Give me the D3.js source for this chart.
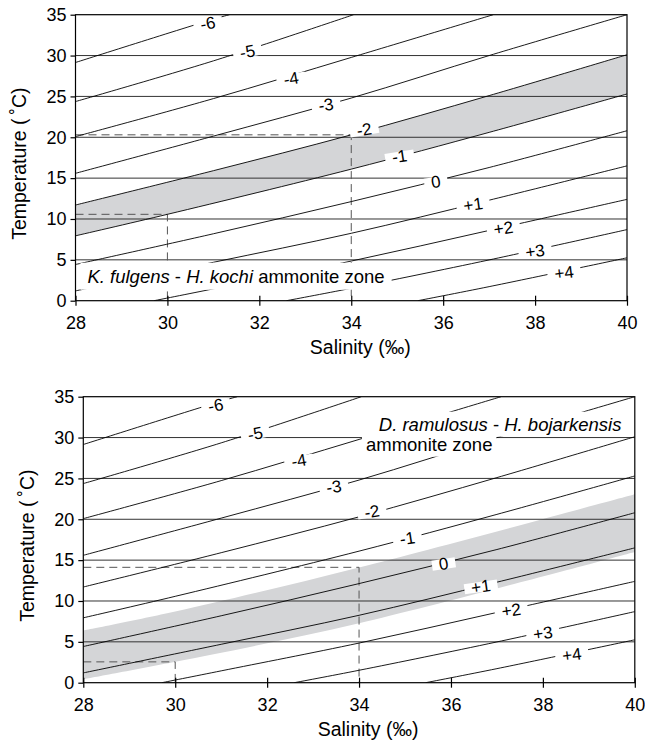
<!DOCTYPE html>
<html>
<head>
<meta charset="utf-8">
<script src="https://cdn.jsdelivr.net/npm/d3@7"></script>
<style>
  body { margin: 0; background: #fff; }
  svg { display: block; font-family: "Liberation Sans", Arial, sans-serif; }
</style>
</head>
<body>
<svg id="chart" width="645" height="744"></svg>
<script>
// axis ticks
const salinityTicks = [28, 30, 32, 34, 36, 38, 40]
const tempTicks = [0, 5, 10, 15, 20, 25, 30, 35]
const gridTemps = [5, 10, 15, 20, 25, 30]

// isolines, [salinity, temperature] (same in both panels)
const isoM6 = [[28, 29.15], [31, 34.45], [31.35, 35]]
const isoM5 = [[28, 24.37], [31, 29.35], [34.05, 35]]
const isoM4 = [[28, 20.08], [31, 24.73], [34, 29.77], [37.09, 35]]
const isoM3 = [[28, 15.59], [31, 20.14], [34, 24.8], [37, 30.0], [40, 35.0]]
const isoM2 = [[28, 11.71], [31, 15.91], [34, 20.3], [37, 25.1], [40, 30.1]]
const isoM1 = [[28, 7.94], [30, 10.57], [34, 16.1], [37, 20.6], [40, 25.3]]
const iso0  = [[28, 4.43], [31, 8.19], [34, 12.13], [37, 16.3], [40, 20.8]]
const isoP1 = [[28, 1.2], [31, 4.7], [34, 8.25], [37, 12.3], [40, 16.5]]
const isoP2 = [[29.71, 0], [31, 1.45], [34, 4.85], [37, 8.6], [40, 12.4]]
const isoP3 = [[32.59, 0], [34, 1.52], [37, 4.99], [40, 8.7]]
const isoP4 = [[35.45, 0], [37, 1.72], [40, 5.25]]
const isolines = [isoM6, isoM5, isoM4, isoM3, isoM2, isoM1, iso0, isoP1, isoP2, isoP3, isoP4]

// isoline labels and where they sit
const isoLabels = ["-6", "-5", "-4", "-3", "-2", "-1", "0", "+1", "+2", "+3", "+4"]
const labelSal  = [30.88, 31.74, 32.69, 33.45, 34.28, 35.05, 35.84, 36.65, 37.31, 38.0, 38.63]
const labelTemp = [33.98, 30.5, 27.2, 24.0, 20.95, 17.7, 14.6, 11.8, 8.9, 6.1, 3.45]

// shaded bands
const bandTopKochi = isoM2
const bandBottomKochi = isoM1
const bandTopBoj = [[28, 6.37], [30, 8.7], [34, 14.1], [40, 23.05]]
const bandBottomBoj = [[28, 0.41], [30, 2.55], [34, 7.27], [40, 16.0]]

// dashed read-off lines
const guidesKochi = [[[28, 20.3], [34, 20.3], [34, 0]], [[28, 10.57], [30, 10.57], [30, 0]]]
const guidesBoj = [[[28, 14.12], [34, 14.12], [34, 0]], [[28, 2.55], [30, 2.55], [30, 0]]]

const svg = d3.select("#chart")

function boxedText(g, build, pad) {
    const t = build(g.append("text"))
    const b = t.node().getBBox()
    g.insert("rect", "text")
        .attr("x", b.x - pad[0]).attr("y", b.y - pad[1])
        .attr("width", b.width + 2 * pad[0]).attr("height", b.height + 2 * pad[1])
        .attr("fill", "#fff")
    return t
}

function panel(p) {
    const x = d3.scaleLinear().domain([28, 40]).range([p.left, p.left + 551.5])
    const y = d3.scaleLinear().domain([0, 35]).range([p.bottom, p.bottom - 286])
    const line = d3.line().x(d => x(d[0])).y(d => y(d[1])).curve(d3.curveCatmullRom)

    svg.append("clipPath").attr("id", "clip" + p.id)
        .append("rect")
        .attr("x", x(28)).attr("y", y(35))
        .attr("width", x(40) - x(28)).attr("height", y(0) - y(35))

    const g = svg.append("g")
    const plot = g.append("g").attr("clip-path", "url(#clip" + p.id + ")")

    plot.append("path")
        .attr("d", line(p.bandTop) + line(p.bandBottom.slice().reverse()).replace("M", "L") + "Z")
        .attr("fill", "#d4d5d7")

    plot.selectAll(".grid").data(gridTemps).enter().append("line")
        .attr("x1", x(28)).attr("x2", x(40))
        .attr("y1", d => y(d)).attr("y2", d => y(d))
        .attr("stroke", "#333").attr("stroke-width", 1)

    plot.selectAll(".guide").data(p.guides).enter().append("path")
        .attr("d", d3.line().x(d => x(d[0])).y(d => y(d[1])))
        .attr("fill", "none").attr("stroke", "#555").attr("stroke-width", 1)
        .attr("stroke-dasharray", "8,5")

    plot.selectAll(".iso").data(isolines).enter().append("path")
        .attr("d", line)
        .attr("fill", "none").attr("stroke", "#000").attr("stroke-width", 0.9)

    // zone annotation
    p.note(g, x, y)

    // isoline labels
    isoLabels.forEach((lab, i) => {
        const pts = isolines[i]
        let k = pts.findIndex(d => d[0] > labelSal[i])
        if (k < 1) k = pts.length - 1
        const a = pts[k - 1], b = pts[k]
        const ang = Math.atan2(y(b[1]) - y(a[1]), x(b[0]) - x(a[0])) * 180 / Math.PI
        const lg = g.append("g")
            .attr("transform", "translate(" + x(labelSal[i]) + "," + y(labelTemp[i]) + ") rotate(" + (0.6 * ang) + ")")
        boxedText(lg, t => t.attr("text-anchor", "middle").attr("dy", "0.36em")
            .attr("font-size", 17).text(lab), [7, -4.5])
    })

    // axes and frame
    g.append("rect")
        .attr("x", x(28)).attr("y", y(35))
        .attr("width", x(40) - x(28)).attr("height", y(0) - y(35))
        .attr("fill", "none").attr("stroke", "#000").attr("stroke-width", 1.2)

    const ax = g.append("g").attr("transform", "translate(0," + y(0) + ")")
        .call(d3.axisBottom(x).tickValues(salinityTicks).tickSize(5).tickPadding(8).tickFormat(d3.format("d")))
    ax.select(".domain").remove()
    ax.selectAll(".tick line").attr("y1", -5).attr("stroke-width", 1.2)
    ax.selectAll(".tick text").attr("font-size", 18).attr("font-family", null)
        .attr("y", 28).attr("dy", 0)

    const ay = g.append("g").attr("transform", "translate(" + x(28) + ",0)")
        .call(d3.axisLeft(y).tickValues(tempTicks).tickSize(5).tickPadding(4).tickFormat(d3.format("d")))
    ay.select(".domain").remove()
    ay.selectAll(".tick line").attr("stroke-width", 1.2)
    ay.selectAll(".tick text").attr("font-size", 18).attr("font-family", null)

    g.append("text")
        .attr("x", (x(28) + x(40)) / 2 + 9).attr("y", y(0) + 53)
        .attr("text-anchor", "middle").attr("font-size", 19.5)
        .text("Salinity (\u2030)")

    g.append("text")
        .attr("transform", "translate(" + (x(28) - 49.5) + "," + ((y(0) + y(35)) / 2 + 6) + ") rotate(-90)")
        .attr("text-anchor", "middle").attr("font-size", 19.5)
        .text("Temperature (\u2009\u02DAC)")
}

panel({
    id: "a", left: 75.5, bottom: 300.7,
    bandTop: bandTopKochi, bandBottom: bandBottomKochi, guides: guidesKochi,
    note: (g, x, y) => {
        boxedText(g, t => {
            t.attr("x", x(28.26)).attr("y", y(2.2)).attr("font-size", 18.5)
            t.append("tspan").attr("font-style", "italic").text("K. fulgens")
            t.append("tspan").text(" - ")
            t.append("tspan").attr("font-style", "italic").text("H. kochi")
            t.append("tspan").text(" ammonite zone")
            return t
        }, [7, 3])
    }
})

panel({
    id: "b", left: 83.3, bottom: 682.7,
    bandTop: bandTopBoj, bandBottom: bandBottomBoj, guides: guidesBoj,
    note: (g, x, y) => {
        boxedText(g, t => {
            t.attr("x", x(34.43)).attr("y", y(30.84)).attr("font-size", 18.5)
            t.append("tspan").attr("font-style", "italic").text("D. ramulosus")
            t.append("tspan").text(" - ")
            t.append("tspan").attr("font-style", "italic").text("H. bojarkensis")
            return t
        }, [5, 2])
        boxedText(g, t => t.attr("x", x(34.15)).attr("y", y(28.4)).attr("font-size", 18.5)
            .text("ammonite zone"), [4, 2])
    }
})
</script>
</body>
</html>
